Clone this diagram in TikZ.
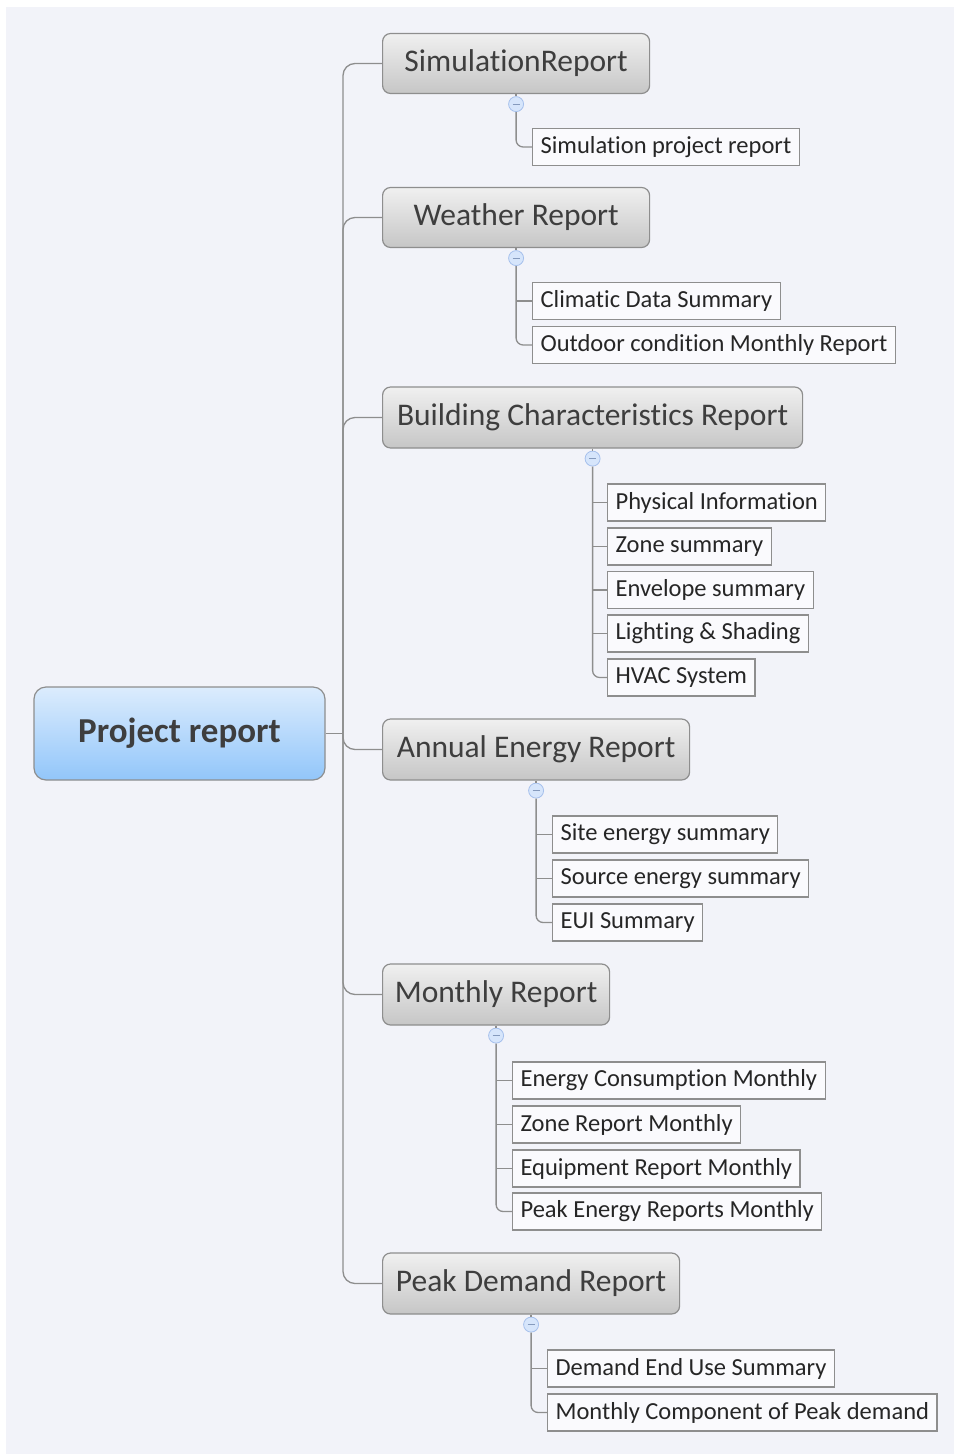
\documentclass[tikz,border=0pt]{standalone}
\usepackage{fontspec}
\setmainfont{Carlito}[Ligatures=NoCommon]
\usepackage{tikz}
\usetikzlibrary{positioning,shapes}

\definecolor{bgcol}{HTML}{F2F3F9}
\definecolor{linecol}{HTML}{8E8E8E}
\definecolor{rootTop}{HTML}{DCECFD}
\definecolor{rootBot}{HTML}{92C6FA}
\definecolor{topTop}{HTML}{F0F0F0}
\definecolor{topBot}{HTML}{C6C6C6}
\definecolor{foldFill}{HTML}{D6E5FB}
\definecolor{foldLine}{HTML}{A6C0EC}
\definecolor{txt}{HTML}{3E3E3E}

\begin{document}
\begin{tikzpicture}[x=1pt,y=-1pt,
		line/.style={draw=linecol,line width=1.3pt},
		rootbox/.style={draw=linecol,line width=1.2pt,rounded corners=12pt,top color=rootTop,bottom color=rootBot,
			minimum width=291pt,minimum height=93pt,text=txt,font=\fontsize{35}{40}\selectfont\bfseries},
		topic/.style={draw=linecol,line width=1.2pt,rounded corners=8pt,top color=topTop,bottom color=topBot,
			anchor=west,minimum height=60pt,inner xsep=10pt,text=txt,font=\fontsize{31.5}{36}\selectfont},
		leaf/.style={draw=linecol,line width=1.2pt,fill=white!60!bgcol,anchor=west,minimum height=37pt,
			inner xsep=8pt,text=black!85,font=\fontsize{24.5}{28}\selectfont},
		fold/.style={circle,draw=foldLine,fill=foldFill,line width=0.8pt,minimum size=15pt,inner sep=0pt,
			path picture={\draw[foldLine!80!black,line width=1pt] ([xshift=-3.5pt]path picture bounding box.center) -- ([xshift=3.5pt]path picture bounding box.center);}}]
		% Canvas
		\useasboundingbox (0,0) rectangle (954,1454);
		\fill[bgcol] (6,7) rectangle (954,1454);

		% Central topic
		\node[rootbox] (root) at (179.5,733.5) {Project report};
		\coordinate (trunk) at (343,733.5);

		% Main topics
		\node[topic,minimum width=267pt] (sim) at (382,63.5) {SimulationReport};
		\node[topic,minimum width=267pt] (weather) at (382,217.5) {Weather Report};
		\node[topic,minimum width=420pt,minimum height=61pt] (build) at (382,417.5) {Building Characteristics Report};
		\node[topic,minimum width=307pt,minimum height=61pt] (annual) at (382,749.5) {Annual Energy Report};
		\node[topic,minimum width=227pt,minimum height=61pt] (monthly) at (382,994.5) {Monthly Report};
		\node[topic,minimum width=297pt,minimum height=61pt] (peak) at (382,1283.5) {Peak Demand Report};

		% Subtopics
		\node[leaf] (s1) at (532,147) {Simulation project report};

		\node[leaf] (w1) at (532,301) {Climatic Data Summary};
		\node[leaf] (w2) at (532,345) {Outdoor condition Monthly Report};

		\node[leaf] (b1) at (607,502.5) {Physical Information};
		\node[leaf] (b2) at (607,546.5) {Zone summary};
		\node[leaf] (b3) at (607,590) {Envelope summary};
		\node[leaf] (b4) at (607,633.5) {Lighting \& Shading};
		\node[leaf] (b5) at (607,677.5) {HVAC System};

		\node[leaf] (a1) at (552,834.5) {Site energy summary};
		\node[leaf] (a2) at (552,878.5) {Source energy summary};
		\node[leaf] (a3) at (552,922.5) {EUI Summary};

		\node[leaf] (m1) at (512,1080.5) {Energy Consumption Monthly};
		\node[leaf] (m2) at (512,1124.5) {Zone Report Monthly};
		\node[leaf] (m3) at (512,1168.5) {Equipment Report Monthly};
		\node[leaf] (m4) at (512,1211.5) {Peak Energy Reports Monthly};

		\node[leaf] (p1) at (547,1368.5) {Demand End Use Summary};
		\node[leaf] (p2) at (547,1412.5) {Monthly Component of Peak demand};

		% Branches from the central topic
		\draw[line] (root.east) -- (trunk);
		\foreach \t in {sim,weather,build,annual,monthly,peak}
			\draw[line,rounded corners=12pt] (trunk) |- (\t.west);

		% Fold markers
		\node[fold] (f1) at ([yshift=-10pt]sim.south) {};
		\node[fold] (f2) at ([yshift=-10pt]weather.south) {};
		\node[fold] (f3) at ([yshift=-10pt]build.south) {};
		\node[fold] (f4) at ([yshift=-10pt]annual.south) {};
		\node[fold] (f5) at ([yshift=-10pt]monthly.south) {};
		\node[fold] (f6) at ([yshift=-10pt]peak.south) {};
		\draw[line] (sim.south) -- (f1.north);
		\draw[line] (weather.south) -- (f2.north);
		\draw[line] (build.south) -- (f3.north);
		\draw[line] (annual.south) -- (f4.north);
		\draw[line] (monthly.south) -- (f5.north);
		\draw[line] (peak.south) -- (f6.north);

		% Branches to subtopics
		\draw[line,rounded corners=7pt] (f1.south) |- (s1.west);

		\draw[line,rounded corners=7pt] (f2.south) |- (w2.west);
		\draw[line] (f2.south |- w1.west) -- (w1.west);

		\draw[line,rounded corners=7pt] (f3.south) |- (b5.west);
		\foreach \t in {b1,b2,b3,b4}
			\draw[line] (f3.south |- \t.west) -- (\t.west);

		\draw[line,rounded corners=7pt] (f4.south) |- (a3.west);
		\foreach \t in {a1,a2}
			\draw[line] (f4.south |- \t.west) -- (\t.west);

		\draw[line,rounded corners=7pt] (f5.south) |- (m4.west);
		\foreach \t in {m1,m2,m3}
			\draw[line] (f5.south |- \t.west) -- (\t.west);

		\draw[line,rounded corners=7pt] (f6.south) |- (p2.west);
		\draw[line] (f6.south |- p1.west) -- (p1.west);
	\end{tikzpicture}
\end{document}
